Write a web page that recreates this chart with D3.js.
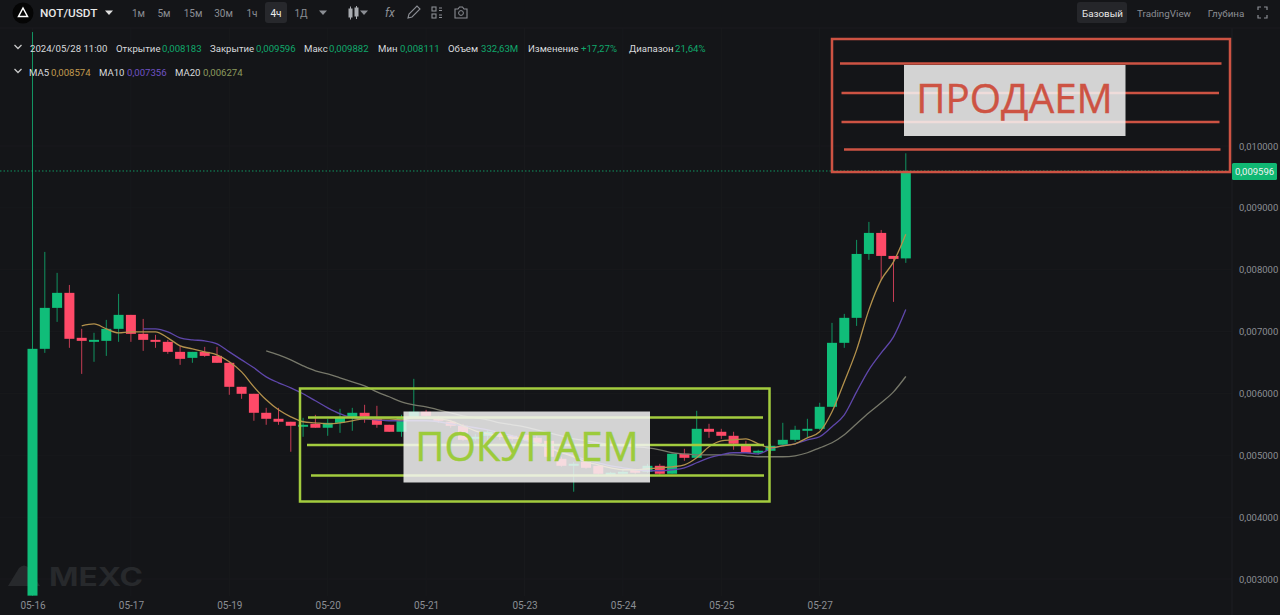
<![CDATA[<!DOCTYPE html>
<html><head><meta charset="utf-8">
<style>html,body{margin:0;padding:0;background:#141518;overflow:hidden}svg{display:block}text{font-family:Roboto,"Noto Sans",sans-serif}</style>
<script src="https://cdn.jsdelivr.net/npm/d3@7"></script></head><body>
<svg id="c" width="1280" height="615"></svg>
<script>
// prices in millionths of USDT
const openM=[2731,6721,7383,7626,6899,6834,6850,7044,7270,6963,
6866,6834,6672,6575,6672,6607,6495,6107,5994,5687,
5590,5542,5461,5509,5445,5525,5606,5687,5590,5493,
5380,5606,5703,5622,5542,5477,5266,5315,5363,5315,
5331,5282,5234,4943,4830,4895,4830,4669,4701,4766,
4734,4830,4701,5024,4959,5428,5380,5315,5153,5041,
5073,5170,5250,5396,5428,5784,6818,7222,8255,8595,
8223,8183];
const closeM=[6721,7383,7626,6883,6850,6866,7044,7270,6963,6866,
6834,6672,6559,6672,6607,6495,6107,5994,5687,5590,
5542,5477,5493,5445,5525,5606,5687,5622,5493,5380,
5606,5703,5638,5558,5477,5250,5299,5380,5299,5266,
5250,5202,4976,4830,4863,4798,4701,4718,4733,4718,
4830,4701,5024,4959,5428,5380,5315,5186,5041,5073,
5153,5250,5412,5428,5784,6818,7222,8255,8595,8223,
8175,9596];
const highM=[11842,8288,7949,7754,7044,6980,7189,7609,7270,7205,
6947,6866,6769,6672,6753,6753,6511,6107,5994,5767,
5767,5542,5606,5654,5590,5751,5767,5816,5800,5493,
5654,6236,5735,5638,5574,5509,5347,5412,5396,5331,
5363,5315,5266,4976,4895,4911,4846,4733,4766,4782,
4862,4862,5024,5105,5719,5509,5428,5380,5234,5089,
5186,5525,5477,5590,5849,7141,7286,8482,8773,8643,
8223,9882];
const lowM=[2731,6656,7157,6737,6316,6511,6607,6834,6834,6688,
6737,6640,6462,6495,6591,6495,5978,5913,5558,5493,
5493,5057,5299,5445,5315,5363,5396,5525,5445,5380,
5299,5606,5606,5525,5445,5234,5234,5250,5250,5234,
5234,5186,4943,4814,4411,4782,4685,4653,4685,4701,
4717,4685,4701,4911,4959,5282,5266,5089,5041,5008,
5024,5170,5218,5282,5412,5784,6737,7092,8159,7835,
7480,8111];
const ma5Start=4, ma10Start=9, ma20Start=19;
const ma5M=[7092,7124,7044,6980,6996,6996,6996,6899,6769,6721,6672,6624,6511,6349,6107,5897,5735,5622,5542,5525,5509,5525,5558,5590,5590,5590,5574,5606,5606,5590,5558,5477,5396,5347,5315,5282,5266,5202,5121,5041,4976,4895,4846,4798,4766,4766,4782,4798,4814,4846,4959,5137,5234,5250,5266,5186,5121,5153,5186,5282,5380,5703,6188,6704,7351,7835,8126,8574];
const ma10M=[7044,7044,6996,6899,6866,6850,6801,6672,6543,6414,6268,6172,6091,5994,5881,5767,5671,5606,5590,5574,5558,5558,5558,5558,5542,5509,5477,5445,5412,5363,5315,5250,5186,5121,5057,4992,4927,4879,4830,4798,4766,4750,4750,4766,4798,4879,4959,5008,5041,5041,5024,5105,5153,5186,5250,5299,5461,5654,6026,6381,6656,6915,7356];
const ma20M=[6688,6624,6543,6446,6365,6317,6252,6188,6123,6026,5946,5865,5816,5784,5735,5687,5638,5606,5574,5525,5493,5461,5412,5363,5315,5266,5234,5202,5170,5153,5137,5121,5089,5041,5024,5008,5008,5008,5008,4992,4976,4976,4976,4992,5041,5121,5202,5331,5509,5687,5849,6026,6274];
const priceTicks=[0.003,0.004,0.005,0.006,0.007,0.008,0.009,0.010];
const dateIdx=[0,8,16,24,32,40,48,56,64];
const dateLabels=["05-16","05-17","05-19","05-20","05-21","05-23","05-24","05-25","05-27"];
const lastPrice=0.009596;
const sellLevels=[0.011334,0.010857,0.010388,0.009944];
const buyLevels=[0.005611,0.005166,0.004673];

const svg=d3.select("#c");
const G="#10bd79",R="#ff4a68",RED="#cd5343",LIME="#a3cc3e",GREY="#8b8e94",WHITE="#d8dadd";
const x=d3.scaleLinear().domain([0,71]).range([32.5,905.8]);
const y=d3.scaleLinear().domain([0.003,0.010]).range([579,146]);
const m=v=>v/1e6;
const comma=v=>d3.format(".6f")(v).replace(".",",");

// grid
const grid=svg.append("g").attr("stroke","#18191c").attr("stroke-width",1);
grid.selectAll("line.h").data(priceTicks).join("line").attr("x1",0).attr("x2",1232).attr("y1",d=>y(d)).attr("y2",d=>y(d));
grid.selectAll("line.v").data(dateIdx).join("line").attr("y1",28).attr("y2",596).attr("x1",d=>x(d)).attr("x2",d=>x(d));
svg.append("line").attr("x1",1232).attr("x2",1232).attr("y1",28).attr("y2",615).attr("stroke","#1d1e22");
svg.append("line").attr("x1",0).attr("x2",1280).attr("y1",28).attr("y2",28).attr("stroke","#1a1b1f");

// watermark
const wm=svg.append("g").attr("fill","#27292c");
wm.append("path").attr("d","M8 586 L19 568 Q24 563 29 568 L40 586 Z");
wm.append("text").attr("x",49).attr("y",586).attr("font-size",25).attr("font-weight",700)
 .attr("textLength",94).attr("lengthAdjust","spacingAndGlyphs").style("font-family","Inter,Roboto,sans-serif").text("MEXC");

// axes
const ax=svg.append("g").attr("transform","translate(1236,0)")
 .call(d3.axisRight(y).tickValues(priceTicks).tickSize(0).tickPadding(3).tickFormat(comma));
ax.select(".domain").remove();
ax.selectAll("text").attr("fill",GREY).attr("font-size",9.5);
const bx=svg.append("g").attr("transform","translate(0,599)")
 .call(d3.axisBottom(x).tickValues(dateIdx).tickSize(0).tickPadding(3).tickFormat(d=>dateLabels[dateIdx.indexOf(d)]));
bx.select(".domain").remove();
bx.selectAll("text").attr("fill",GREY).attr("font-size",10);

// last price line
svg.append("line").attr("x1",0).attr("x2",1232).attr("y1",y(lastPrice)).attr("y2",y(lastPrice))
 .attr("stroke",G).attr("stroke-opacity",.75).attr("stroke-dasharray","1.5 2");

// candles
const idx=d3.range(openM.length);
const col=i=>closeM[i]>=openM[i]?G:R;
svg.append("g").selectAll("line").data(idx).join("line")
 .attr("x1",i=>x(i)).attr("x2",i=>x(i)).attr("y1",i=>y(m(highM[i]))).attr("y2",i=>y(m(lowM[i])))
 .attr("stroke",col).attr("stroke-opacity",.75).attr("stroke-width",1);
svg.append("g").selectAll("rect").data(idx).join("rect")
 .attr("x",i=>x(i)-5).attr("width",10)
 .attr("y",i=>y(m(Math.max(openM[i],closeM[i]))))
 .attr("height",i=>Math.max(1.5,Math.abs(y(m(openM[i]))-y(m(closeM[i])))))
 .attr("fill",col);

// moving averages
const maLine=(arr,start,c)=>svg.append("path").datum(arr).attr("fill","none").attr("stroke",c).attr("stroke-width",1.3)
 .attr("d",d3.line().curve(d3.curveMonotoneX).x((d,i)=>x(i+start)).y(d=>y(m(d))));
maLine(ma20M,ma20Start,"#77786a");
maLine(ma10M,ma10Start,"#5f47ab");
maLine(ma5M,ma5Start,"#b3914c");

// annotation: sell
svg.append("rect").attr("x",832).attr("y",39).attr("width",398).attr("height",133).attr("fill","none").attr("stroke",RED).attr("stroke-width",2.5);
const sellX=[[840,1221.5],[841.5,1219],[841.5,1219.5],[844,1220.5]];
svg.append("g").selectAll("line").data(sellLevels).join("line")
 .attr("x1",(d,i)=>sellX[i][0]).attr("x2",(d,i)=>sellX[i][1]).attr("y1",d=>y(d)).attr("y2",d=>y(d))
 .attr("stroke",RED).attr("stroke-width",2.5);
svg.append("rect").attr("x",904).attr("y",65).attr("width",221.5).attr("height",71).attr("fill","rgba(245,245,245,.85)");
svg.append("text").attr("x",1014.5).attr("y",113).attr("text-anchor","middle").attr("font-size",40.3).attr("fill",RED)
 .attr("stroke",RED).attr("stroke-width",.4).style("font-family","'Open Sans','Noto Sans',sans-serif").text("ПРОДАЕМ");

// annotation: buy
svg.append("rect").attr("x",300).attr("y",388.5).attr("width",469.5).attr("height",113).attr("fill","none").attr("stroke",LIME).attr("stroke-width",2.5);
const buyX=[[308,763],[307,764],[311,764]];
svg.append("g").selectAll("line").data(buyLevels).join("line")
 .attr("x1",(d,i)=>buyX[i][0]).attr("x2",(d,i)=>buyX[i][1]).attr("y1",d=>y(d)).attr("y2",d=>y(d))
 .attr("stroke",LIME).attr("stroke-width",2.5);
svg.append("rect").attr("x",403.5).attr("y",411.5).attr("width",246.5).attr("height",71).attr("fill","rgba(245,245,245,.85)");
svg.append("text").attr("x",527).attr("y",461).attr("text-anchor","middle").attr("font-size",40.3).attr("fill","#9ccb3b")
 .attr("stroke","#9ccb3b").attr("stroke-width",.4).style("font-family","'Open Sans','Noto Sans',sans-serif").text("ПОКУПАЕМ");

// last price label
svg.append("rect").attr("x",1232).attr("y",163).attr("width",45).attr("height",17).attr("rx",1.5).attr("fill","#10b873");
svg.append("text").attr("x",1254.5).attr("y",175).attr("text-anchor","middle").attr("font-size",9.5).attr("fill","#f2f2f2").text(comma(lastPrice));

// toolbar
svg.append("circle").attr("cx",23).attr("cy",13).attr("r",10.5).attr("fill","#050505");
svg.append("path").attr("d","M23 8 L27.5 16.5 H18.5 Z").attr("fill","none").attr("stroke","#fff").attr("stroke-width",1.5);
svg.append("text").attr("x",40).attr("y",17).attr("font-size",11.8).attr("font-weight",500).attr("fill","#e8e8e8").text("NOT/USDT");
const tri=(cx,cy,c)=>svg.append("path").attr("d",`M${cx-4} ${cy-2} h8 l-4 4.5 Z`).attr("fill",c);
tri(109,12.5,"#e0e0e0");
svg.append("rect").attr("x",265).attr("y",2).attr("width",22).attr("height",21).attr("rx",3).attr("fill","#27282c");
const tf=["1м","5м","15м","30м","1ч","4ч","1Д"], tfX=[138.5,164,193,223.5,252,276,301];
svg.append("g").selectAll("text").data(tf).join("text").attr("x",(d,i)=>tfX[i]).attr("y",16.5).attr("text-anchor","middle")
 .attr("font-size",10).attr("fill",d=>d==="4ч"?"#eee":GREY).text(d=>d);
tri(323,12.5,GREY);
// candle icon
const ic=svg.append("g").attr("fill","#a8abb0").attr("stroke","#a8abb0");
ic.append("rect").attr("x",349).attr("y",9).attr("width",3).attr("height",8);
ic.append("line").attr("x1",350.5).attr("x2",350.5).attr("y1",6.5).attr("y2",19.5);
ic.append("rect").attr("x",355).attr("y",8).attr("width",3).attr("height",8);
ic.append("line").attr("x1",356.5).attr("x2",356.5).attr("y1",6).attr("y2",19);
tri(364,12.5,GREY);
svg.append("text").attr("x",385).attr("y",17).attr("font-size",12).attr("font-style","italic").attr("fill",GREY).text("fx");
svg.append("path").attr("d","M408 18 l1 -4 l8 -8 l3 3 l-8 8 Z").attr("fill","none").attr("stroke",GREY).attr("stroke-width",1.1);
const gi=svg.append("g").attr("fill","none").attr("stroke",GREY).attr("stroke-width",1.1);
gi.append("rect").attr("x",432).attr("y",7).attr("width",4).attr("height",4);
gi.append("rect").attr("x",432).attr("y",14).attr("width",4).attr("height",4);
gi.append("path").attr("d","M439 8h3 M439 10.5h3 M439 15h3 M439 17.5h3");
svg.append("path").attr("d","M455 9 h3 l1.5 -2 h3 l1.5 2 h3 v9 h-12 Z").attr("fill","none").attr("stroke",GREY).attr("stroke-width",1.1);
svg.append("circle").attr("cx",461).attr("cy",13).attr("r",2.4).attr("fill","none").attr("stroke",GREY);
svg.append("rect").attr("x",1077).attr("y",2).attr("width",50).attr("height",21).attr("rx",3).attr("fill","#25262a");
const views=["Базовый","TradingView","Глубина"], viewX=[1102.5,1164,1226];
svg.append("g").selectAll("text").data(views).join("text").attr("x",(d,i)=>viewX[i]).attr("y",16.5).attr("text-anchor","middle")
 .attr("font-size",9.8).attr("fill",(d,i)=>i?GREY:"#e8e8e8").text(d=>d);
svg.append("path").attr("d","M1258 10v-3h3 M1264 7h3v3 M1258 15v3h3 M1264 18h3v-3").attr("fill","none").attr("stroke",GREY).attr("stroke-width",1.2);

// legends
const chev=(cx,cy)=>svg.append("path").attr("d",`M${cx-3.5} ${cy-2} l3.5 3.5 l3.5 -3.5`).attr("fill","none").attr("stroke","#c8c8c8").attr("stroke-width",1.3);
chev(18,47); chev(18,71);
const legendLabels=["2024/05/28 11:00","Открытие","Закрытие","Макс","Мин","Объем","Изменение","Диапазон"];
const legendLabelX=[30,116,210,304,378,448,528,629];
const legendValues=["0,008183","0,009596","0,009882","0,008111","332,63М","+17,27%","21,64%"];
const legendValueX=[162,256,329,400,481,581,675];
const l1=svg.append("g").attr("font-size",9.6);
l1.selectAll("text.l").data(legendLabels).join("text").attr("class","l").attr("x",(d,i)=>legendLabelX[i]).attr("y",52).attr("fill",WHITE).text(d=>d);
l1.selectAll("text.v").data(legendValues).join("text").attr("class","v").attr("x",(d,i)=>legendValueX[i]).attr("y",52).attr("fill","#10a86c").text(d=>d);
const maLabels=["MA5","MA10","MA20"], maLabelX=[29,99,175];
const maValues=["0,008574","0,007356","0,006274"], maValueX=[51,127,203], maCols=["#c29a4f","#6f52c4","#8d9a5e"];
const l2=svg.append("g").attr("font-size",9.6);
l2.selectAll("text.l").data(maLabels).join("text").attr("class","l").attr("x",(d,i)=>maLabelX[i]).attr("y",76).attr("fill",WHITE).text(d=>d);
l2.selectAll("text.v").data(maValues).join("text").attr("class","v").attr("x",(d,i)=>maValueX[i]).attr("y",76).attr("fill",(d,i)=>maCols[i]).text(d=>d);
</script></body></html>]]>
